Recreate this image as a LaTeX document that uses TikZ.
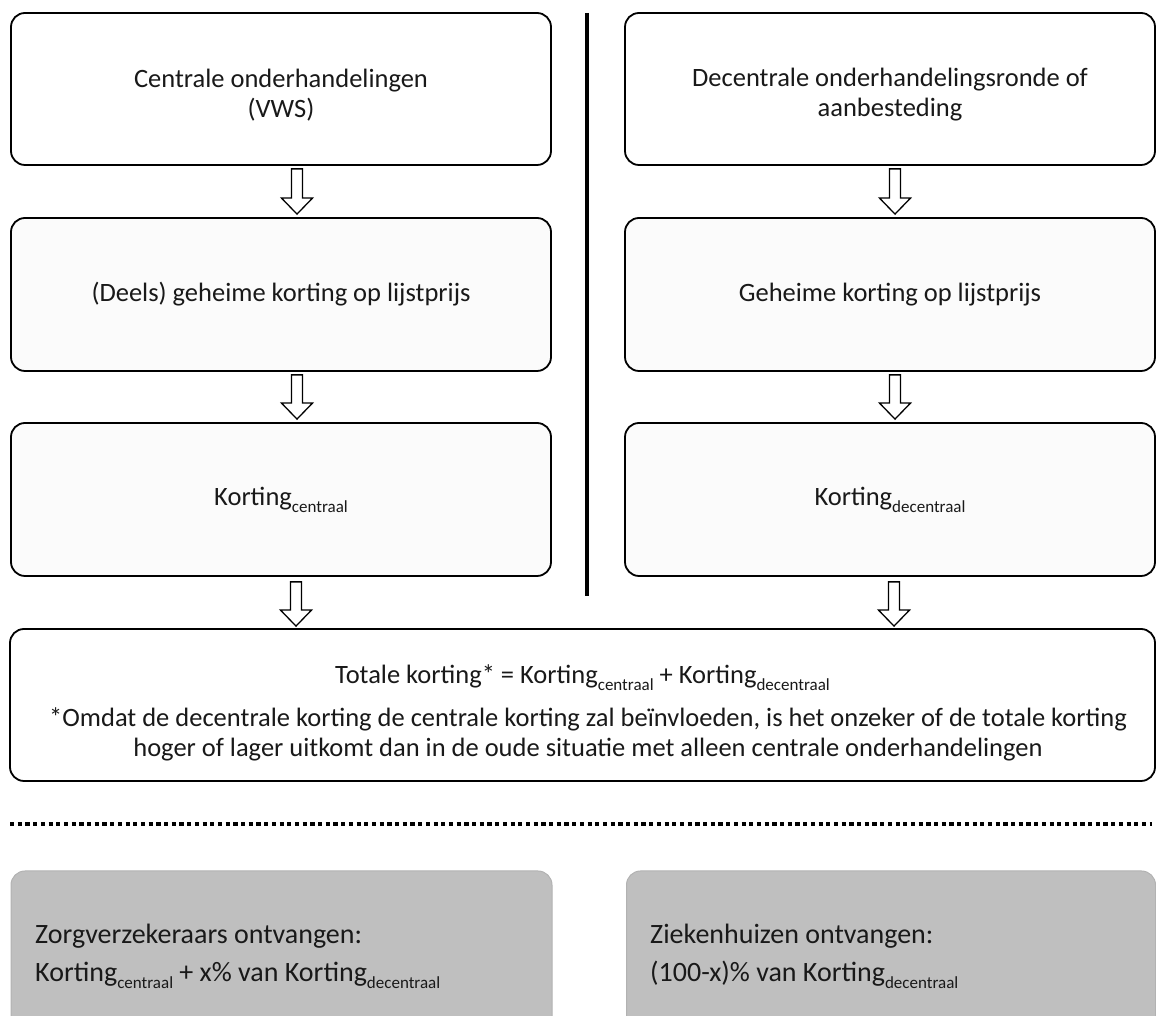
\documentclass[tikz,border=0pt]{standalone}
\usepackage{fontspec}
\setmainfont{Carlito}
\usetikzlibrary{calc}
\newcommand{\ksub}[1]{\raisebox{-0.26em}{\fontsize{17}{17}\selectfont #1}}
\begin{document}
\begin{tikzpicture}[x=1pt,y=1pt,
  box/.style={draw=black, line width=1.8pt, rounded corners=14pt, fill=white, inner sep=0pt},
  lbox/.style={box, fill=black!1.5},
  gbox/.style={draw=black!30, line width=1pt, rounded corners=14pt, fill=black!25, inner sep=0pt},
  txt/.style={font=\fontsize{26.5}{30}\selectfont, align=center, inner sep=0pt, text=black!90},
  btxt/.style={font=\fontsize{28}{38}\selectfont, align=left, inner sep=0pt, text=black!90, anchor=west},
  blockarr/.style={draw=black, line width=1.3pt, fill=white, to path={
    let \p1=(\tikztostart), \p2=(\tikztotarget) in
    (\x1-5.5pt,\y1) -- (\x1-5.5pt,\y2+16pt) -- (\x1-15.5pt,\y2+16pt) -- (\x1,\y2) -- (\x1+15.5pt,\y2+16pt) -- (\x1+5.5pt,\y2+16pt) -- (\x1+5.5pt,\y1) -- cycle}}]
\useasboundingbox (0,0) rectangle (1156,1016);
% left column
\node[box, minimum width=540pt, minimum height=152pt] (b1) at (281,927) {};
\node[txt] (t1) at (281,921) {Centrale onderhandelingen\\(VWS)};
\node[lbox, minimum width=540pt, minimum height=153pt] (b2) at (281,721.5) {};
\node[txt] (t2) at (b2) {(Deels) geheime korting op lijstprijs};
\node[lbox, minimum width=540pt, minimum height=153pt] (b3) at (281,516.5) {};
\node[txt] (t3) at (b3) {Korting\ksub{centraal}};
% right column
\node[box, minimum width=530pt, minimum height=152pt] (r1) at (890,927) {};
\node[txt] (u1) at (890,921) {Decentrale onderhandelingsronde of\\aanbesteding};
\node[lbox, minimum width=530pt, minimum height=153pt] (r2) at (890,721.5) {};
\node[txt] (u2) at (r2) {Geheime korting op lijstprijs};
\node[lbox, minimum width=530pt, minimum height=153pt] (r3) at (890,516.5) {};
\node[txt] (u3) at (r3) {Korting\ksub{decentraal}};
% divider
\coordinate (vtop) at (587,1003);
\coordinate (vbot) at (587,420);
\draw[line width=4pt] (vtop) -- (vbot);
% total box
\node[box, minimum width=1145pt, minimum height=152pt] (b4) at (582.5,311) {};
\node[txt] (t4) at (582.5,338) {Totale korting* = Korting\ksub{centraal} + Korting\ksub{decentraal}};
\node[txt] (t5) at (588,282) {*Omdat de decentrale korting de centrale korting zal beïnvloeden, is het onzeker of de totale korting\\hoger of lager uitkomt dan in de oude situatie met alleen centrale onderhandelingen};
% arrows
\draw[blockarr] ([xshift=16pt,yshift=-3pt]b1.south) to ([yshift=3pt]b2.north);
\draw[blockarr] ([xshift=16pt,yshift=-3pt]b2.south) to ([yshift=3pt]b3.north);
\draw[blockarr] ([xshift=15pt,yshift=-5pt]b3.south) to ([yshift=2pt]b4.north);
\draw[blockarr] ([xshift=5pt,yshift=-3pt]r1.south) to ([yshift=3pt]r2.north);
\draw[blockarr] ([xshift=5pt,yshift=-3pt]r2.south) to ([yshift=3pt]r3.north);
\draw[blockarr] ([xshift=4pt,yshift=-5pt]r3.south) to ([yshift=2pt]b4.north);
% dotted separator
\coordinate (dl) at (10,192);
\coordinate (dr) at (1152,192);
\draw[line width=4.5pt, dash pattern=on 4.2pt off 3.5pt] (dl) -- (dr);
% bottom boxes
\node[gbox, minimum width=541pt, minimum height=160pt] (g1) at (281.5,65) {};
\node[btxt] (h1) at (35,60) {Zorgverzekeraars ontvangen:\\Korting\ksub{centraal} + x\% van Korting\ksub{decentraal}};
\node[gbox, minimum width=529pt, minimum height=160pt] (g2) at (891,65) {};
\node[btxt] (h2) at (650,60) {Ziekenhuizen ontvangen:\\(100-x)\% van Korting\ksub{decentraal}};
\end{tikzpicture}
\end{document}
